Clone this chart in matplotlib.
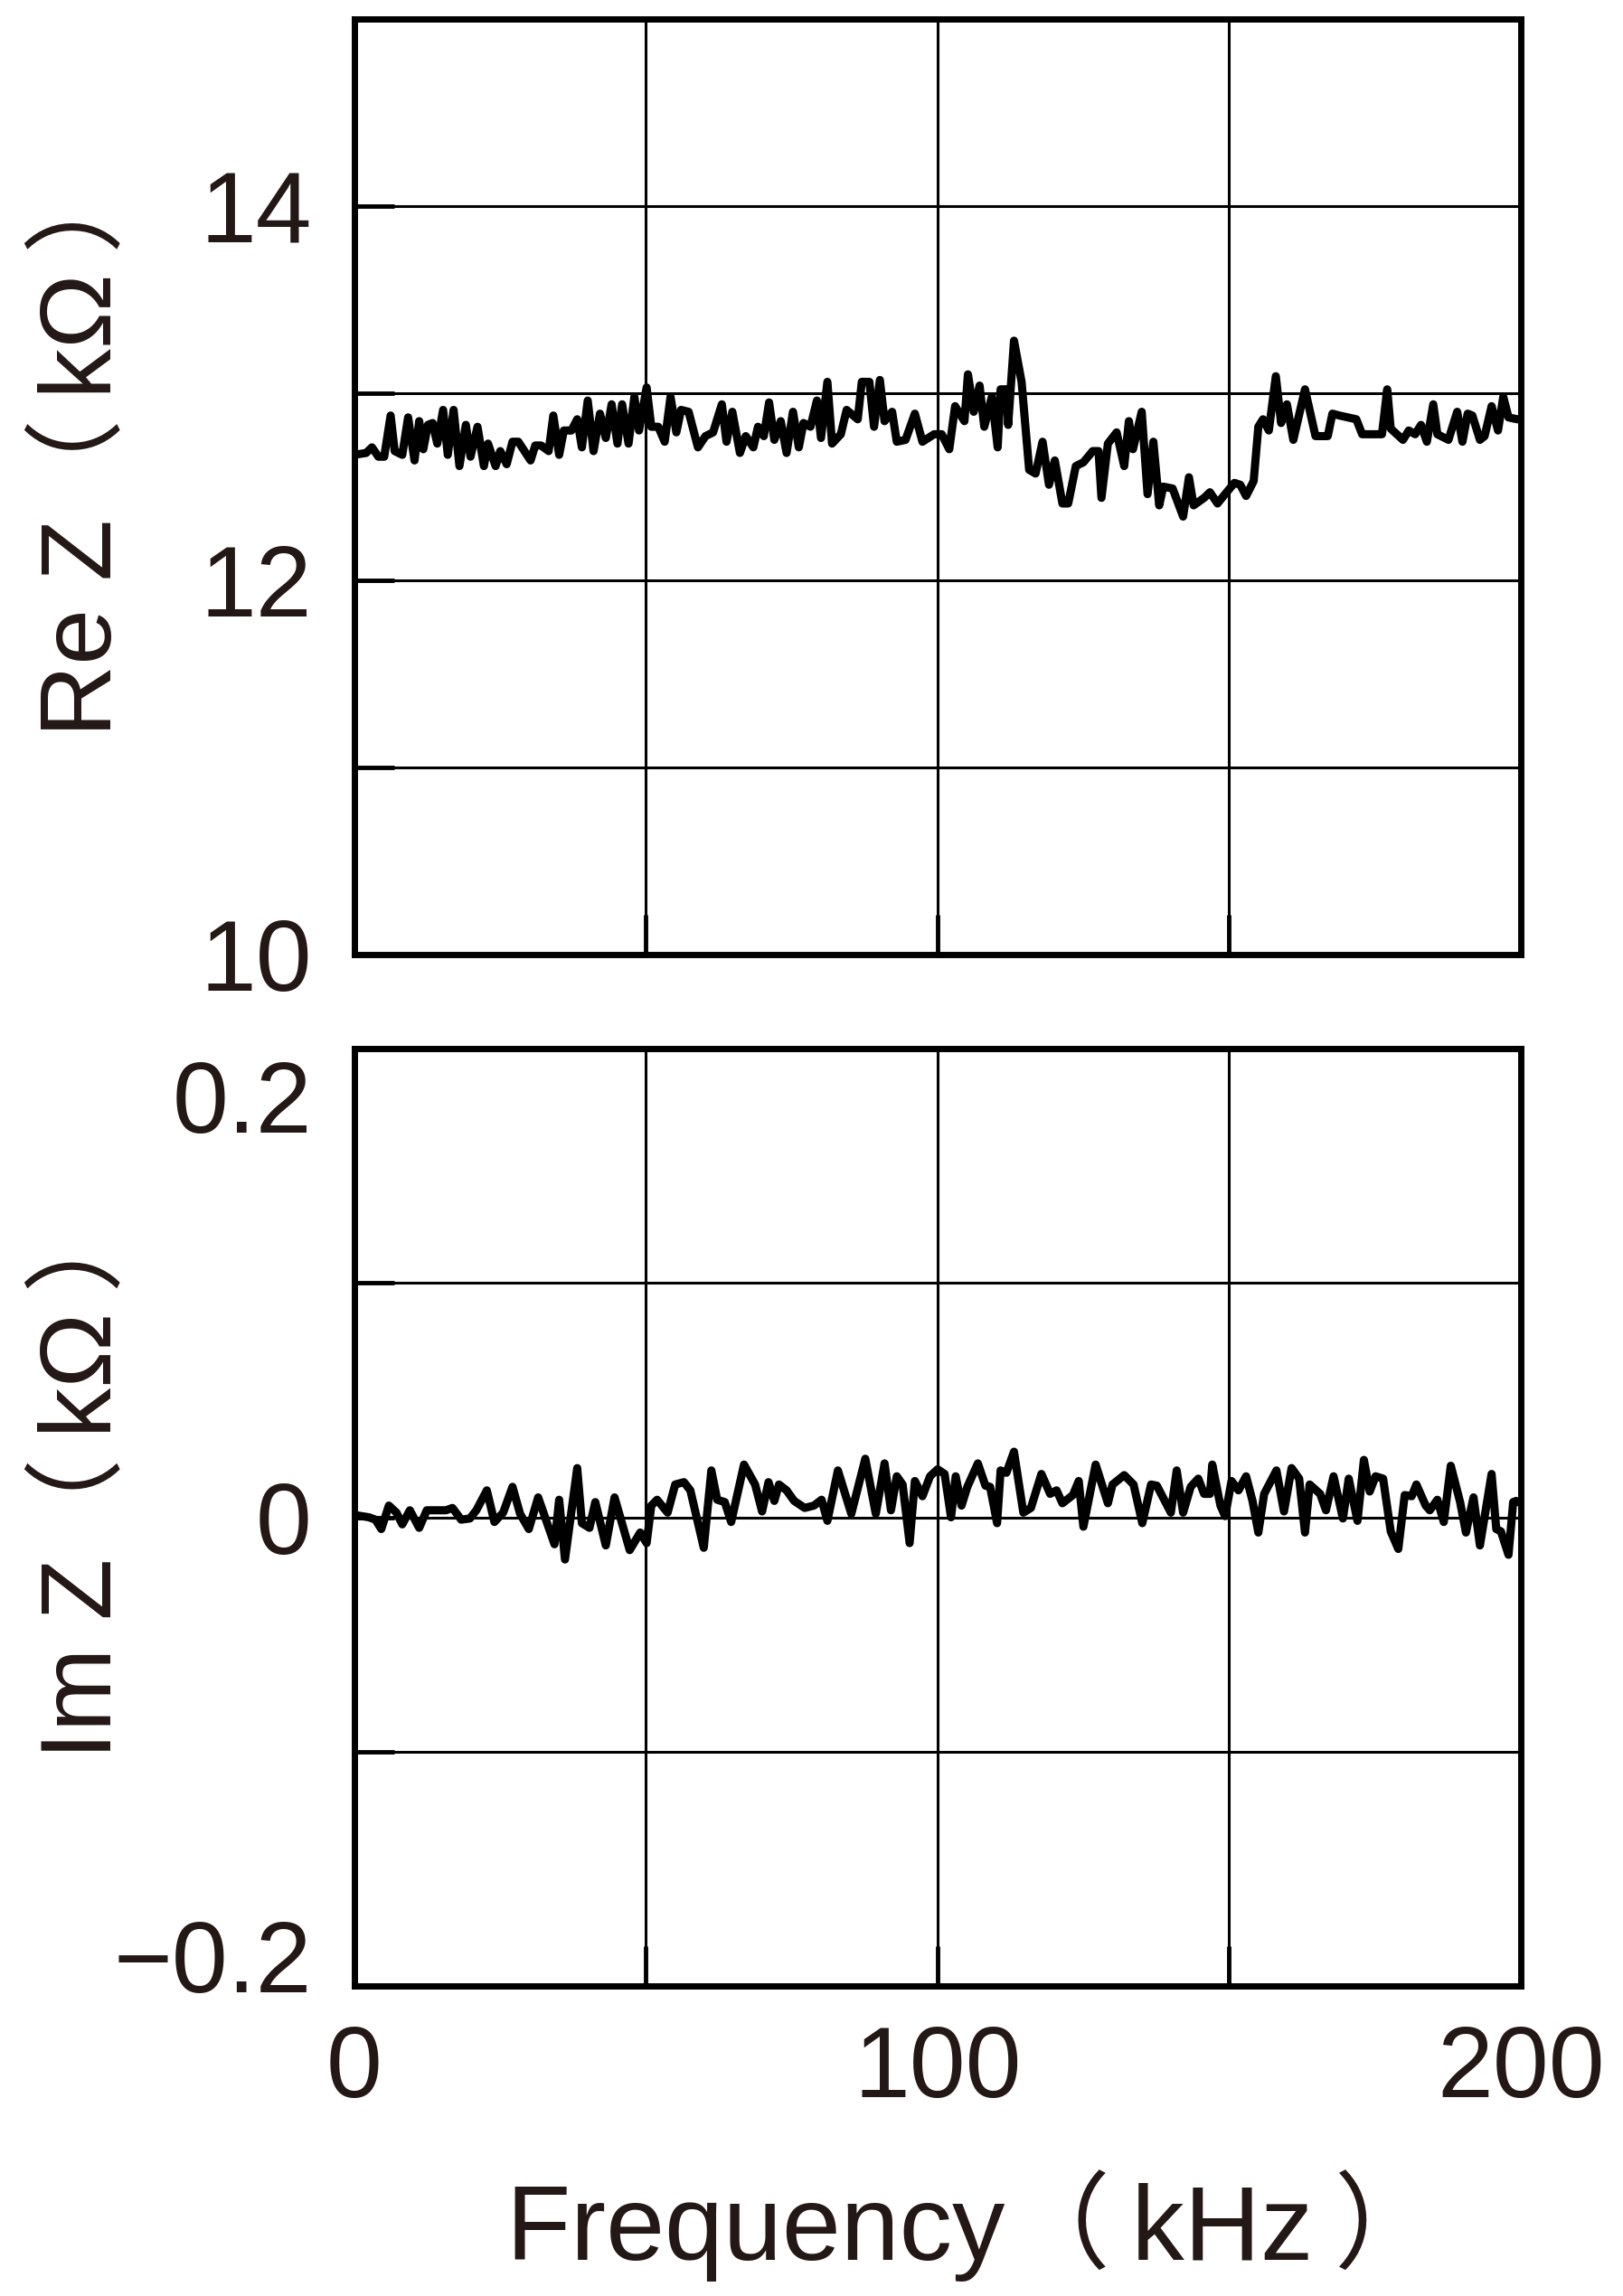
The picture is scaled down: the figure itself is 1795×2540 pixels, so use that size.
import matplotlib
matplotlib.use("Agg")
import matplotlib.pyplot as plt
from matplotlib.transforms import ScaledTranslation

# Re Z (kOhm)
re_freq = [
    0, 2.0, 3.0, 4.1, 5.1, 6.2, 6.9, 8.2, 9.2, 10.3,
    11.1, 11.8, 12.6, 13.4, 14.2, 15.2, 16.0, 17.0, 18.0, 19.1,
    19.9, 21.1, 22.2, 22.9, 24.2, 25.0, 26.1, 27.1, 28.1, 30.2,
    31.0, 32.0, 33.3, 34.1, 35.1, 35.9, 37.2, 38.2, 39.0, 40.0,
    41.0, 42.1, 43.1, 44.1, 45.1, 45.9, 47.0, 48.0, 48.8, 50.1,
    50.9, 52.1, 53.2, 54.2, 55.2, 56.0, 57.3, 58.9, 60.2, 61.5,
    63.0, 63.8, 64.8, 66.1, 67.1, 68.4, 69.2, 70.2, 71.1, 72.0,
    73.1, 74.1, 75.2, 76.2, 77.0, 78.2, 79.3, 80.0, 81.1, 81.9,
    83.4, 84.4, 86.3, 87.0, 88.3, 89.1, 90.1, 90.9, 92.2, 93.0,
    94.5, 96.1, 97.4, 99.4, 100.7, 102.0, 103.0, 104.6, 105.2, 106.2,
    107.2, 108.0, 109.3, 110.3, 110.8, 111.8, 112.1, 113.1, 114.4, 115.7,
    116.8, 118.0, 119.1, 120.1, 121.4, 122.4, 123.7, 125.0, 126.6, 127.6,
    128.1, 129.2, 130.7, 132.0, 132.8, 133.5, 135.0, 136.0, 137.0, 138.0,
    138.7, 140.3, 142.1, 143.1, 143.9, 145.7, 146.7, 148.0, 149.3, 150.9,
    151.9, 152.9, 154.2, 155.0, 155.8, 156.8, 158.0, 158.9, 159.9, 161.0,
    163.0, 164.8, 166.9, 167.7, 168.9, 171.8, 172.8, 176.2, 177.1, 177.7,
    179.8, 180.8, 181.9, 182.9, 183.9, 185.0, 185.7, 187.6, 189.1, 190.0,
    190.9, 191.7, 193.0, 193.8, 195.0, 196.1, 197.0, 197.9, 199.4, 200.0,
]
re_z = [
    12.67, 12.68, 12.71, 12.66, 12.66, 12.88, 12.69, 12.67, 12.87, 12.64,
    12.85, 12.70, 12.83, 12.84, 12.73, 12.91, 12.67, 12.91, 12.61, 12.83,
    12.66, 12.82, 12.61, 12.73, 12.61, 12.69, 12.62, 12.74, 12.74, 12.64,
    12.72, 12.72, 12.69, 12.88, 12.67, 12.80, 12.80, 12.86, 12.71, 12.96,
    12.69, 12.89, 12.76, 12.94, 12.73, 12.94, 12.73, 12.98, 12.80, 13.03,
    12.82, 12.82, 12.74, 12.98, 12.79, 12.91, 12.90, 12.71, 12.77, 12.79,
    12.94, 12.74, 12.90, 12.68, 12.77, 12.71, 12.82, 12.77, 12.95, 12.75,
    12.85, 12.68, 12.90, 12.71, 12.84, 12.82, 12.96, 12.76, 13.06, 12.73,
    12.78, 12.91, 12.86, 13.06, 13.06, 12.82, 13.07, 12.85, 12.90, 12.74,
    12.75, 12.89, 12.74, 12.78, 12.78, 12.70, 12.93, 12.85, 13.10, 12.90,
    13.04, 12.82, 12.98, 12.71, 13.02, 13.02, 12.83, 13.28, 13.06, 12.59,
    12.57, 12.74, 12.51, 12.64, 12.41, 12.41, 12.61, 12.63, 12.69, 12.69,
    12.44, 12.73, 12.79, 12.61, 12.85, 12.70, 12.90, 12.46, 12.74, 12.40,
    12.50, 12.49, 12.34, 12.55, 12.40, 12.44, 12.47, 12.41, 12.46, 12.52,
    12.51, 12.45, 12.53, 12.82, 12.86, 12.80, 13.09, 12.84, 12.94, 12.75,
    13.02, 12.77, 12.77, 12.89, 12.88, 12.86, 12.78, 12.78, 13.02, 12.81,
    12.75, 12.80, 12.78, 12.83, 12.74, 12.94, 12.78, 12.75, 12.90, 12.74,
    12.89, 12.88, 12.75, 12.77, 12.93, 12.80, 12.98, 12.87, 12.86, 12.86,
]

# Im Z (kOhm)
im_freq = [
    0, 2.5, 3.6, 4.6, 5.9, 7.2, 8.2, 9.5, 11.1, 12.4,
    14.2, 15.7, 16.8, 18.3, 19.8, 20.9, 22.7, 24.0, 25.5, 27.1,
    28.4, 29.9, 31.5, 34.3, 35.1, 36.1, 38.2, 39.0, 40.3, 41.3,
    43.1, 44.6, 47.2, 49.0, 50.1, 50.9, 51.9, 53.7, 55.0, 56.5,
    57.6, 59.9, 61.2, 62.2, 63.5, 64.6, 66.8, 68.7, 69.9, 71.0,
    72.0, 72.8, 74.1, 75.4, 77.2, 78.8, 80.1, 81.1, 82.9, 85.2,
    87.6, 89.4, 90.9, 92.0, 93.0, 94.0, 95.2, 96.1, 97.4, 98.7,
    100.0, 101.2, 102.3, 103.1, 104.1, 105.1, 106.9, 108.2, 109.0, 110.2,
    110.8, 111.8, 113.1, 114.7, 116.0, 117.8, 119.3, 120.4, 121.4, 123.2,
    124.2, 125.0, 127.1, 129.2, 130.0, 132.0, 133.6, 135.1, 136.6, 137.6,
    140.0, 141.0, 142.1, 143.4, 144.7, 145.7, 146.7, 147.1, 148.5, 149.3,
    150.4, 151.6, 152.9, 154.0, 155.0, 156.0, 158.1, 159.4, 160.7, 162.0,
    163.0, 163.8, 165.6, 166.6, 167.9, 169.5, 170.5, 172.0, 173.1, 174.1,
    175.1, 176.4, 177.7, 179.0, 180.1, 181.3, 182.1, 183.7, 184.4, 185.7,
    186.8, 188.0, 189.6, 190.6, 191.9, 193.0, 195.0, 195.8, 196.6, 197.9,
    198.7, 199.2, 200.0,
]
im_z = [
    0.001, 0.0, -0.001, -0.005, 0.005, 0.002, -0.003, 0.003, -0.0045, 0.003,
    0.003, 0.003, 0.004, -0.001, -0.0005, 0.003, 0.0115, -0.002, 0.002, 0.013,
    0.0015, -0.005, 0.0085, -0.0115, 0.0075, -0.018, 0.021, -0.0025, -0.0045, 0.0065,
    -0.012, 0.0085, -0.014, -0.0065, -0.011, 0.005, 0.0075, 0.002, 0.014, 0.015,
    0.0115, -0.013, 0.020, 0.0075, 0.0065, -0.002, 0.0225, 0.014, 0.0025, 0.015,
    0.007, 0.014, 0.0115, 0.007, 0.004, 0.005, 0.0075, -0.0015, 0.020, 0.0015,
    0.025, 0.0015, 0.023, 0.003, 0.0175, 0.014, -0.011, 0.0155, 0.009, 0.0175,
    0.0205, 0.0185, 0.0, 0.0175, 0.005, 0.013, 0.023, 0.0135, 0.013, -0.0025,
    0.020, 0.019, 0.028, 0.002, 0.004, 0.0185, 0.010, 0.0115, 0.006, 0.0095,
    0.0155, -0.004, 0.0225, 0.006, 0.014, 0.018, 0.014, -0.0025, 0.014, 0.0135,
    0.002, 0.020, 0.002, 0.013, 0.0165, 0.010, 0.010, 0.0225, 0.005, 0.0005,
    0.0155, 0.0115, 0.0175, 0.007, -0.0065, 0.010, 0.020, 0.0025, 0.021, 0.0165,
    -0.0065, 0.014, 0.010, 0.003, 0.0175, -0.0005, 0.0165, -0.0015, 0.0245, 0.011,
    0.0175, 0.0165, -0.006, -0.0135, 0.0095, 0.009, 0.014, 0.005, 0.003, 0.0075,
    -0.002, 0.022, 0.0065, -0.0065, 0.0085, -0.012, 0.0185, -0.005, -0.006, -0.016,
    0.0065, 0.007, 0.006,
]

x_ticks = [0, 50, 100, 150, 200]
x_labels = ["0", "", "100", "", "200"]
re_ticks = [10, 11, 12, 13, 14, 15]
re_labels = ["10", "", "12", "", "14", ""]
im_ticks = [-0.2, -0.1, 0, 0.1, 0.2]
im_labels = ["\u22120.2", "", "0", "", "0.2"]

TXT = "#231815"
plt.rcParams["font.family"] = ["Liberation Sans", "Noto Sans CJK JP"]


def style(ax):
    ax.set_xlim(0, 200)
    ax.grid(True, color="black", lw=2.2)
    for s in ax.spines.values():
        s.set_linewidth(5)
    ax.tick_params(direction="in", length=32, width=3.5, color="black",
                   labelsize=80, labelcolor=TXT, top=False, right=False)
    ax.tick_params(axis="y", pad=34)
    ax.tick_params(axis="x", pad=30)


def main():
    fig = plt.figure(figsize=(17.95, 25.40), dpi=100)
    ax1 = fig.add_axes([0.2184, 0.5843, 0.7186, 0.4075])
    ax2 = fig.add_axes([0.2184, 0.1350, 0.7186, 0.4083])

    ax1.plot(re_freq, re_z, color="black", lw=6.5)
    ax1.set_ylim(10, 15)
    ax1.set_yticks(re_ticks, re_labels)
    ax1.set_xticks(x_ticks, [""] * len(x_ticks))
    style(ax1)

    ax2.plot(im_freq, im_z, color="black", lw=6.5)
    ax2.set_ylim(-0.2, 0.2)
    ax2.set_yticks(im_ticks, im_labels)
    ax2.set_xticks(x_ticks, x_labels)
    style(ax2)

    # end labels on the lower panel sit a little inside the frame
    ylabs = ax2.get_yticklabels()
    ylabs[0].set_transform(ylabs[0].get_transform() + ScaledTranslation(0, 0.34, fig.dpi_scale_trans))
    ylabs[4].set_transform(ylabs[4].get_transform() + ScaledTranslation(0, -0.52, fig.dpi_scale_trans))

    for ax, txt in ((ax1, "Re Z\uff08\u2009k\u03a9\u2009\uff09"), (ax2, "Im Z\uff08\u2009k\u03a9\u2009\uff09")):
        ax.set_ylabel(txt, fontsize=80, color=TXT)
        ax.yaxis.label.set_va("center")
        ax.yaxis.set_label_coords(-0.232, 0.545)

    ax2.set_xlabel("Frequency\uff08\u2009kHz\u2009\uff09", fontsize=84, color=TXT)
    ax2.xaxis.label.set_va("center")
    ax2.xaxis.set_label_coords(0.53, -0.2555)

    fig.savefig("out.png", dpi=100)


if __name__ == "__main__":
    main()
